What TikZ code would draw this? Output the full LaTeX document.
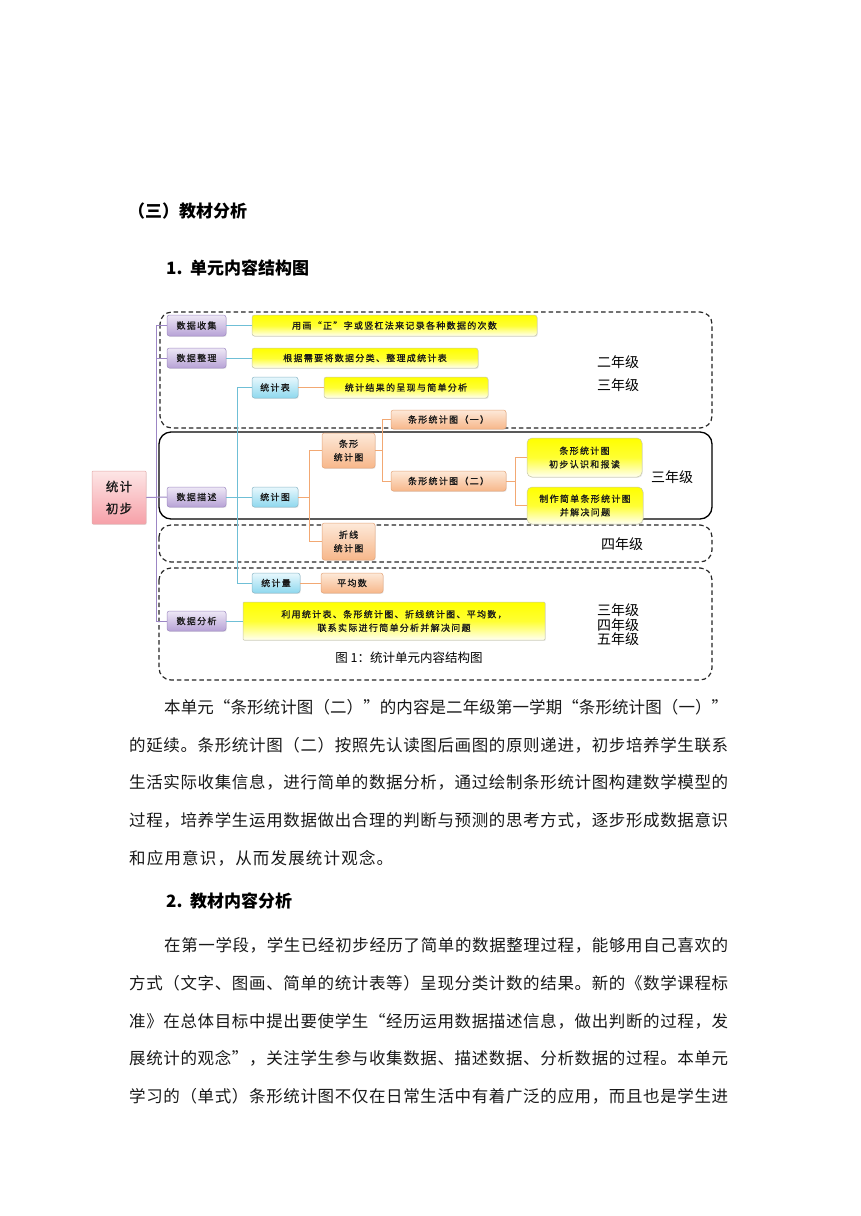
\documentclass[tikz,border=0pt]{standalone}
\usepackage{fontspec}
\newfontfamily\cjk{Noto Sans CJK SC}
\newfontfamily\cjkbox{Noto Sans CJK SC}[FakeBold=0.9]
\usetikzlibrary{shadows}
\definecolor{ptop}{HTML}{EEE8F6}
\definecolor{pbot}{HTML}{B7A2D6}
\definecolor{pdraw}{HTML}{A08CC4}
\definecolor{btop}{HTML}{E8F8FD}
\definecolor{bbot}{HTML}{8ED8EE}
\definecolor{bdraw}{HTML}{8CB8C8}
\definecolor{otop}{HTML}{FDE9D9}
\definecolor{obot}{HTML}{F7B78A}
\definecolor{odraw}{HTML}{E5A57A}
\definecolor{ytop}{HTML}{FFFF00}
\definecolor{ybot}{HTML}{FFFFF4}
\definecolor{ydraw}{HTML}{C9C9A8}
\definecolor{rtop}{HTML}{FDE6E6}
\definecolor{rbot}{HTML}{F6A0A8}
\definecolor{rdraw}{HTML}{E4AAAA}
\definecolor{lp}{HTML}{9C86C4}
\definecolor{lb}{HTML}{6FBFD6}
\definecolor{lo}{HTML}{F2A873}
\newdimen\lsk \lsk=1.3pt
\def\lsA#1{#1\lsB}
\def\lsB#1{\ifx#1\relax\else\kern\lsk#1\expandafter\lsB\fi}
\newcommand\ls[1]{\lsA#1\relax}
\def\spA#1{#1\spB}
\def\spB#1{\ifx#1\relax\else\hfil#1\expandafter\spB\fi}
\newcommand\spread[2]{\makebox[#1][s]{\spA#2\relax}}
\tikzset{
  bx/.style={rounded corners=2.5pt, inner sep=0pt, align=center, text=black!90,
    font=\cjkbox\fontsize{9}{13.5}\selectfont, line width=0.5pt,
    drop shadow={opacity=0.18, shadow xshift=0.7pt, shadow yshift=-0.9pt}},
  sz/.style 2 args={minimum width=#1pt, minimum height=#2pt},
  pbox/.style={bx, draw=pdraw, top color=ptop, bottom color=pbot},
  bbox/.style={bx, draw=bdraw, top color=btop, bottom color=bbot},
  obox/.style={bx, draw=odraw, top color=otop, bottom color=obot},
  ybox/.style={bx, draw=ydraw, top color=ytop, bottom color=ybot, middle color=ytop!80!white},
  rbox/.style={bx, draw=rdraw, top color=rtop, bottom color=rbot, rounded corners=1pt,
    font=\cjkbox\fontsize{12.5}{22}\selectfont},
  lpur/.style={draw=lp, line width=1pt},
  lblu/.style={draw=lb, line width=1pt},
  lora/.style={draw=lo, line width=1pt},
  grp/.style={draw=black!85, line width=1.2pt, rounded corners=12pt, dash pattern=on 4.5pt off 3pt},
  grpsolid/.style={draw=black, line width=1.3pt, rounded corners=12pt},
  grade/.style={font=\cjk\fontsize{14}{17}\selectfont, align=center, inner sep=0pt},
  head/.style={anchor=west, inner sep=0pt, font=\cjk\bfseries\fontsize{17}{20}\selectfont},
  body/.style={anchor=west, inner sep=0pt, font=\cjk\fontsize{16.5}{20}\selectfont, text=black!90}
}
\begin{document}
\begin{tikzpicture}[x=1pt,y=-1pt]
\useasboundingbox (0,0) rectangle (860,1216);
\fill[white] (0,0) rectangle (860,1216);

% headings
\node[head] (h1) at (128,211) {（三）教材分析};
\node[head] (h2) at (166,268) {\makebox[24pt][l]{1.}单元内容结构图};

% group boxes
\draw[grp] (160,312) rectangle (712,428);
\draw[grpsolid] (159,432) rectangle (712,519);
\draw[grp] (159,525) rectangle (712,562);
\draw[grp] (159,568) rectangle (712,680);

% nodes
\node[rbox, sz={54}{53}] (root) at (119,497.5) {\ls{统计}\\\ls{初步}};
\node[pbox, sz={59}{21}] (sjsj) at (196.5,325.5) {\ls{数据收集}};
\node[pbox, sz={59}{20}] (sjzl) at (196.5,358) {\ls{数据整理}};
\node[pbox, sz={59}{20}] (sjms) at (196.5,497) {\ls{数据描述}};
\node[pbox, sz={59}{20}] (sjfx) at (196.5,621) {\ls{数据分析}};

\node[ybox, sz={285}{21}] (y1) at (394.5,325.5) {\ls{用画“正”字或竖杠法来记录各种数据的次数}};
\node[ybox, sz={226}{20}] (y2) at (365,358) {\ls{根据需要将数据分类、整理成统计表}};
\node[bbox, sz={46}{21}] (tb) at (275,387.5) {\ls{统计表}};
\node[ybox, sz={164}{21}] (y3) at (406,387.5) {\ls{统计结果的呈现与简单分析}};
\node[bbox, sz={46}{20}] (tt) at (275,497) {\ls{统计图}};
\node[bbox, sz={48}{20}] (tl) at (276,583) {\ls{统计量}};
\node[obox, sz={62}{20}] (pj) at (352,583) {\ls{平均数}};
\node[obox, sz={53}{35}] (tx) at (348.5,450.5) {\ls{条形}\\\ls{统计图}};
\node[obox, sz={53}{37}] (zx) at (348.5,541.5) {\ls{折线}\\\ls{统计图}};
\node[obox, sz={115}{19}] (t1) at (448.5,419.5) {\ls{条形统计图（一）}};
\node[obox, sz={115}{20}] (t2) at (448.5,481) {\ls{条形统计图（二）}};
\node[ybox, sz={115}{39}, rounded corners=5pt] (y4) at (584.5,457.5) {\ls{条形统计图}\\\ls{初步认识和报读}};
\node[ybox, sz={116}{37}, rounded corners=5pt] (y5) at (585,505.5) {\ls{制作简单条形统计图}\\\ls{并解决问题}};
\node[ybox, sz={302}{38}, rounded corners=1pt] (y6) at (394,621) {\ls{利用统计表、条形统计图、折线统计图、平均数，}\\\ls{联系实际进行简单分析并解决问题}};

% connectors
\draw[lpur] (root.east) -- (sjms.west);
\draw[lpur] (sjsj.west) -- ++(-10,0) |- (sjfx.west);
\draw[lpur] (sjzl.west) -- ++(-10,0);
\draw[lblu] (sjsj.east) -- (y1.west);
\draw[lblu] (sjzl.east) -- (y2.west);
\draw[lblu] (sjms.east) -- (tt.west);
\draw[lblu] (sjfx.east) -- (y6.west);
\draw[lblu] (tb.west) -- ++(-14,0) |- (tl.west);
\draw[lora] (tb.east) -- (y3.west);
\draw[lora] (tl.east) -- (pj.west);
\draw[lora] (tt.east) -- ++(12,0);
\draw[lora] (tx.west) -- ++(-12,0) |- (zx.west);
\draw[lora] (tx.east) -- ++(8,0);
\draw[lora] (t1.west) -- ++(-8,0) |- (t2.west);
\draw[lora] (t2.east) -- ++(10,0);
\draw[lora] (y4.west) -- ++(-11,0) |- (y5.west);

% grade labels
\node[grade] (g1) at (618,362) {二年级};
\node[grade] (g2) at (618,385) {三年级};
\node[grade] (g3) at (672,477) {三年级};
\node[grade] (g4) at (622,544) {四年级};
\node[grade] (g5) at (618,625) {三年级\\[-2.5pt]四年级\\[-2.5pt]五年级};
\node[font=\cjk\fontsize{12.5}{15}\selectfont, inner sep=0pt] (cap) at (409,658) {图 1：统计单元内容结构图};

% paragraph 1
\node[body] (p1) at (164,707) {\spread{564pt}{本单元“条形统计图（二）”的内容是二年级第一学期“条形统计图（一）”}};
\node[body] (p2) at (129,745) {\spread{599pt}{的延续。条形统计图（二）按照先认读图后画图的原则递进，初步培养学生联系}};
\node[body] (p3) at (129,782) {\spread{599pt}{生活实际收集信息，进行简单的数据分析，通过绘制条形统计图构建数学模型的}};
\node[body] (p4) at (129,820) {\spread{599pt}{过程，培养学生运用数据做出合理的判断与预测的思考方式，逐步形成数据意识}};
\node[body] (p5) at (129,858) {\spread{264pt}{和应用意识，从而发展统计观念。}};

\node[head] (h3) at (166,901) {\makebox[24pt][l]{2.}教材内容分析};

% paragraph 2
\node[body] (q1) at (164,945) {\spread{564pt}{在第一学段，学生已经初步经历了简单的数据整理过程，能够用自己喜欢的}};
\node[body] (q2) at (129,983) {\spread{599pt}{方式（文字、图画、简单的统计表等）呈现分类计数的结果。新的《数学课程标}};
\node[body] (q3) at (129,1021) {\spread{599pt}{准》在总体目标中提出要使学生“经历运用数据描述信息，做出判断的过程，发}};
\node[body] (q4) at (129,1058) {\spread{599pt}{展统计的观念”，关注学生参与收集数据、描述数据、分析数据的过程。本单元}};
\node[body] (q5) at (129,1096) {\spread{599pt}{学习的（单式）条形统计图不仅在日常生活中有着广泛的应用，而且也是学生进}};
\end{tikzpicture}
\end{document}
